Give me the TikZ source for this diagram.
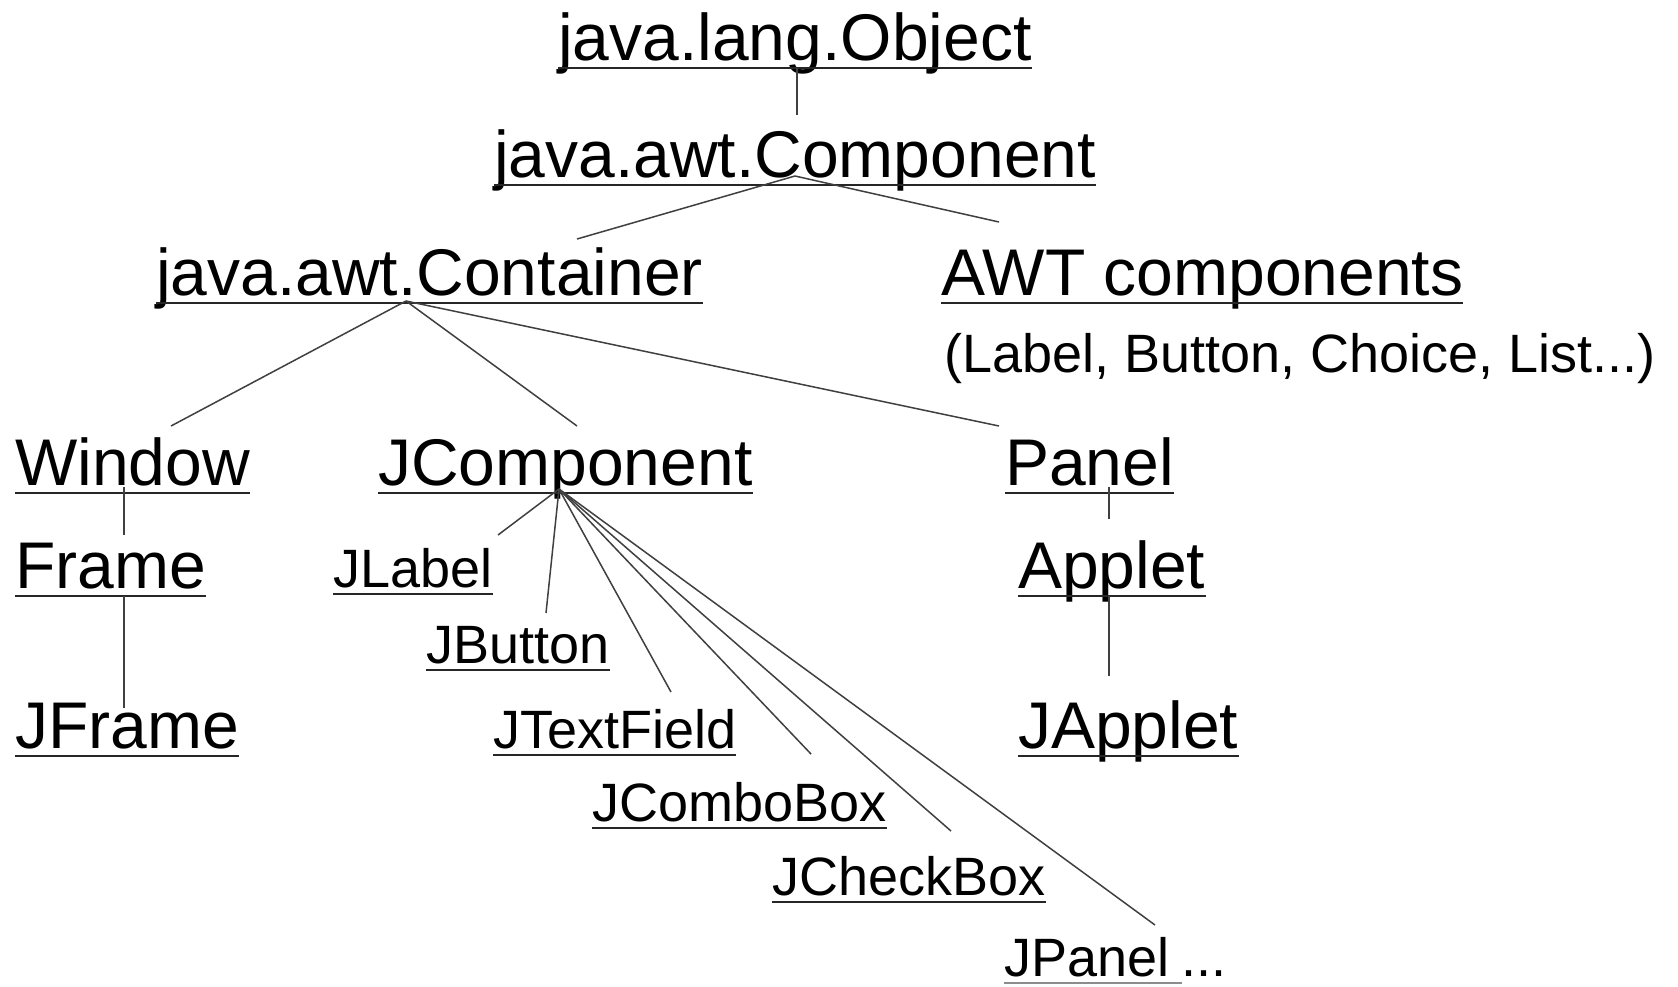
\documentclass[tikz,border=0pt]{standalone}
\usepackage{fontspec}
\setmainfont{Liberation Sans}
\begin{document}
\begin{tikzpicture}[x=1pt,y=-1pt,
  big/.style={font=\fontsize{66}{70}\selectfont, inner sep=0pt, anchor=base west},
  small/.style={font=\fontsize{54}{60}\selectfont, inner sep=0pt, anchor=base west},
  uline/.style={line width=2.4pt, black!85},
  link/.style={line width=1.5pt, black!75}]
\useasboundingbox[fill=white] (0,0) rectangle (1678,986);

% class names
\node[big] (obj) at (558,60) {java.lang.Object};
\node[big] (comp) at (494,177) {java.awt.Component};
\node[big] (cont) at (156,295) {java.awt.Container};
\node[big] (awt) at (941,295) {AWT components};
\node[small] (awtlist) at (944,372) {(Label, Button, Choice, List...)};
\node[big] (win) at (15,485) {Window};
\node[big] (jcomp) at (378,485) {JComponent};
\node[big] (panel) at (1005,485) {Panel};
\node[big] (frame) at (15,588) {Frame};
\node[big] (applet) at (1018,588) {Applet};
\node[big] (jframe) at (15,748) {JFrame};
\node[big] (japplet) at (1018,748) {JApplet};
\node[small] (jlabel) at (333,587) {JLabel};
\node[small] (jbutton) at (426,663) {JButton};
\node[small] (jtext) at (493,748) {JTextField};
\node[small] (jcombo) at (592,821) {JComboBox};
\node[small] (jcheck) at (772,895) {JCheckBox};
\node[small] (jpanel) at (1004,976) {JPanel};
\node[small] (jdots) at ([xshift=12pt]jpanel.base east) {...};

% underlines
\foreach \n in {obj,comp,cont,awt,win,jcomp,panel,frame,applet,jframe,japplet}
  \draw[uline] ([yshift=-8pt]\n.base west) -- ([yshift=-8pt]\n.base east);
\foreach \n in {jlabel,jbutton,jtext,jcombo,jcheck}
  \draw[uline] ([yshift=-7pt]\n.base west) -- ([yshift=-7pt]\n.base east);
\draw[uline, black!45] ([yshift=-7pt]jpanel.base west) -- ([yshift=-7pt]jdots.base west);

% connector points
\coordinate (objhub) at (797,68);
\coordinate (compin) at (797,115);
\coordinate (comphub) at (795,176);
\coordinate (contin) at (577,239);
\coordinate (awtin) at (999,222);
\coordinate (conthub) at (406,301);
\coordinate (winin) at (171,426);
\coordinate (jcompin) at (577,426);
\coordinate (panelin) at (999,426);
\coordinate (winhub) at (124,487);
\coordinate (framein) at (124,535);
\coordinate (framehub) at (124,596);
\coordinate (jframein) at (124,708);
\coordinate (panelhub) at (1109,487);
\coordinate (appletin) at (1109,519);
\coordinate (applethub) at (1109,596);
\coordinate (jappletin) at (1109,676);
\coordinate (jcomphub) at (559,489);
\coordinate (jlabelin) at (498,535);
\coordinate (jbuttonin) at (546,613);
\coordinate (jtextin) at (671,692);
\coordinate (jcomboin) at (811,754);
\coordinate (jcheckin) at (951,831);
\coordinate (jpanelin) at (1155,925);

% connectors
\draw[link] (objhub) -- (compin);
\draw[link] (comphub) -- (contin);
\draw[link] (comphub) -- (awtin);
\draw[link] (conthub) -- (winin);
\draw[link] (conthub) -- (jcompin);
\draw[link] (conthub) -- (panelin);
\draw[link] (winhub) -- (framein);
\draw[link] (framehub) -- (jframein);
\draw[link] (panelhub) -- (appletin);
\draw[link] (applethub) -- (jappletin);
\foreach \e in {jlabelin,jbuttonin,jtextin,jcomboin,jcheckin,jpanelin}
  \draw[link] (jcomphub) -- (\e);
\end{tikzpicture}
\end{document}
